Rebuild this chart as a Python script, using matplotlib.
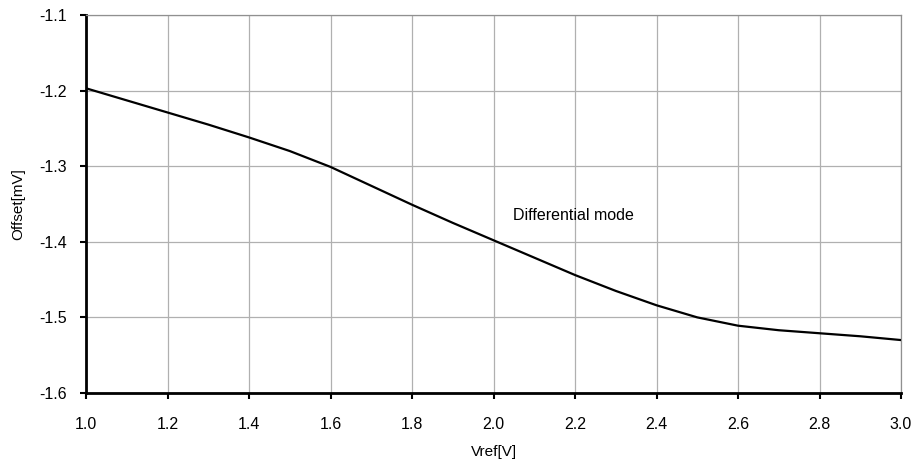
import matplotlib
matplotlib.use("Agg")
import matplotlib.pyplot as plt
import numpy as np

# Offset vs Vref
vref = [1.0, 1.1, 1.2, 1.3, 1.4, 1.5, 1.6, 1.7, 1.8, 1.9, 2.0,
        2.1, 2.2, 2.3, 2.4, 2.5, 2.6, 2.7, 2.8, 2.9, 3.0]
offset = [-1.197, -1.213, -1.229, -1.245, -1.262, -1.280, -1.301, -1.326,
          -1.351, -1.375, -1.398, -1.421, -1.444, -1.465, -1.484, -1.500,
          -1.511, -1.517, -1.521, -1.525, -1.530]

x_ticks = [1.0, 1.2, 1.4, 1.6, 1.8, 2.0, 2.2, 2.4, 2.6, 2.8, 3.0]
y_ticks = [-1.6, -1.5, -1.4, -1.3, -1.2, -1.1]

plt.rcParams["font.family"] = ["Liberation Sans", "DejaVu Sans"]

fig = plt.figure(figsize=(9.15, 4.67), dpi=100)
ax = fig.add_axes([0.094, 0.1585, 0.8907, 0.8095])

ax.plot(vref, offset, color="black", lw=1.6, zorder=3)

ax.set_xlim(1.0, 3.0)
ax.set_ylim(-1.6, -1.1)
ax.set_xticks(x_ticks)
ax.set_xticklabels([f"{v:.1f}" for v in x_ticks])
ax.set_yticks(y_ticks)
ax.set_yticklabels([f"{v:.1f}" for v in y_ticks])
ax.grid(True, color="#b0b0b0", lw=0.9)
ax.set_axisbelow(True)

for side in ("top", "right"):
    ax.spines[side].set_color("#909090")
    ax.spines[side].set_linewidth(0.9)
for side in ("left", "bottom"):
    ax.spines[side].set_color("black")
    ax.spines[side].set_linewidth(2.0)

ax.tick_params(axis="both", direction="out", length=4, width=1.5,
               labelsize=11.5, colors="black")
ax.tick_params(axis="x", pad=13)
ax.tick_params(axis="y", pad=10)

ax.set_xlabel("Vref[V]", fontsize=11, labelpad=10)
ax.set_ylabel("Offset[mV]", fontsize=11, labelpad=10)

ax.text(2.048, -1.365, "Differential mode", fontsize=11.5,
        va="center", ha="left")

fig.savefig("out.png", dpi=100)
